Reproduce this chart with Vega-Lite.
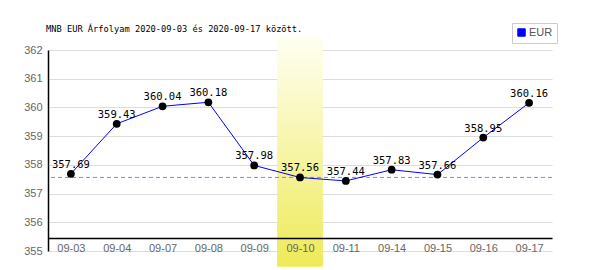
{
  "$schema": "https://vega.github.io/schema/vega-lite/v6.json",
  "width": 504,
  "height": 201,
  "autosize": "none",
  "padding": {"left": 48, "top": 50, "right": 48, "bottom": 19},
  "background": "white",
  "title": {"text": "MNB EUR Árfolyam 2020-09-03 és 2020-09-17 között.", "anchor": "start", "frame": "group", "font": "DejaVu Sans Mono", "fontSize": 8.7, "fontWeight": "normal", "color": "#000000", "offset": -11, "dx": -2},
  "config": {"view": {"stroke": null}},
  "data": {"values": [
    {"date": "09-03", "rate": 357.69, "series": "EUR"},
    {"date": "09-04", "rate": 359.43, "series": "EUR"},
    {"date": "09-07", "rate": 360.04, "series": "EUR"},
    {"date": "09-08", "rate": 360.18, "series": "EUR"},
    {"date": "09-09", "rate": 357.98, "series": "EUR"},
    {"date": "09-10", "rate": 357.56, "series": "EUR"},
    {"date": "09-11", "rate": 357.44, "series": "EUR"},
    {"date": "09-14", "rate": 357.83, "series": "EUR"},
    {"date": "09-15", "rate": 357.66, "series": "EUR"},
    {"date": "09-16", "rate": 358.95, "series": "EUR"},
    {"date": "09-17", "rate": 360.16, "series": "EUR"}
  ]},
  "encoding": {
    "x": {"field": "date", "type": "ordinal",
      "sort": ["09-03", "09-04", "09-07", "09-08", "09-09", "09-10", "09-11", "09-14", "09-15", "09-16", "09-17"],
      "scale": {"paddingInner": 0, "paddingOuter": 0},
      "axis": {"title": null, "offset": -13, "tickBand": "extent", "ticks": false, "tickSize": 0, "labelPadding": 4, "labelAngle": 0,
        "domainColor": "#000000", "domainWidth": 1.5, "gridColor": "#dddddd", "labelColor": "#666666", "labelFont": "Liberation Sans", "labelFontSize": 11, "zindex": 1}},
    "y": {"field": "rate", "type": "quantitative",
      "scale": {"domain": [355, 362], "nice": false, "zero": false},
      "axis": {"title": null, "values": [355, 356, 357, 358, 359, 360, 361, 362], "ticks": false, "tickSize": 0, "labelPadding": 6,
        "domainColor": "#000000", "domainWidth": 1.5, "gridColor": "#dddddd", "labelColor": "#666666", "labelFont": "Liberation Sans", "labelFontSize": 11}}
  },
  "layer": [
    {"transform": [{"filter": "datum.date == '09-10'"}],
      "mark": {"type": "rect", "clip": false, "color": {"gradient": "linear", "x1": 0, "y1": 0, "x2": 0, "y2": 1, "stops": [{"offset": 0, "color": "#fffff4"}, {"offset": 1, "color": "#eeea58"}]}},
      "encoding": {"y": {"datum": 362.52, "type": "quantitative"}, "y2": {"datum": 354.45}}},
    {"mark": {"type": "rule", "stroke": "#8c8cf5", "strokeDash": [4, 3], "strokeWidth": 1},
      "encoding": {"x": null, "y": {"datum": 357.56, "type": "quantitative"}}},
    {"mark": {"type": "line", "strokeWidth": 1},
      "encoding": {
        "color": {"field": "series", "type": "nominal", "scale": {"range": ["#0000ff"]},
          "legend": {"title": null, "orient": "none", "legendX": 464, "legendY": -27, "symbolType": "square", "symbolSize": 55, "strokeColor": "#cccccc", "fillColor": "white", "padding": 4, "labelFont": "Liberation Sans", "labelFontSize": 11, "labelColor": "#555555", "labelOffset": 2,
            "encode": {"symbols": {"update": {"fill": {"value": "#0000ff"}, "stroke": {"value": "#000066"}, "strokeWidth": {"value": 1}}}}}}}},
    {"mark": {"type": "circle", "color": "#000000", "opacity": 1, "size": 60}},
    {"mark": {"type": "text", "font": "DejaVu Sans Mono", "fontSize": 10.5, "color": "#000000", "align": "center", "baseline": "alphabetic", "dy": -6},
      "encoding": {"text": {"field": "rate", "type": "quantitative", "format": ".2f"}}}
  ]
}
